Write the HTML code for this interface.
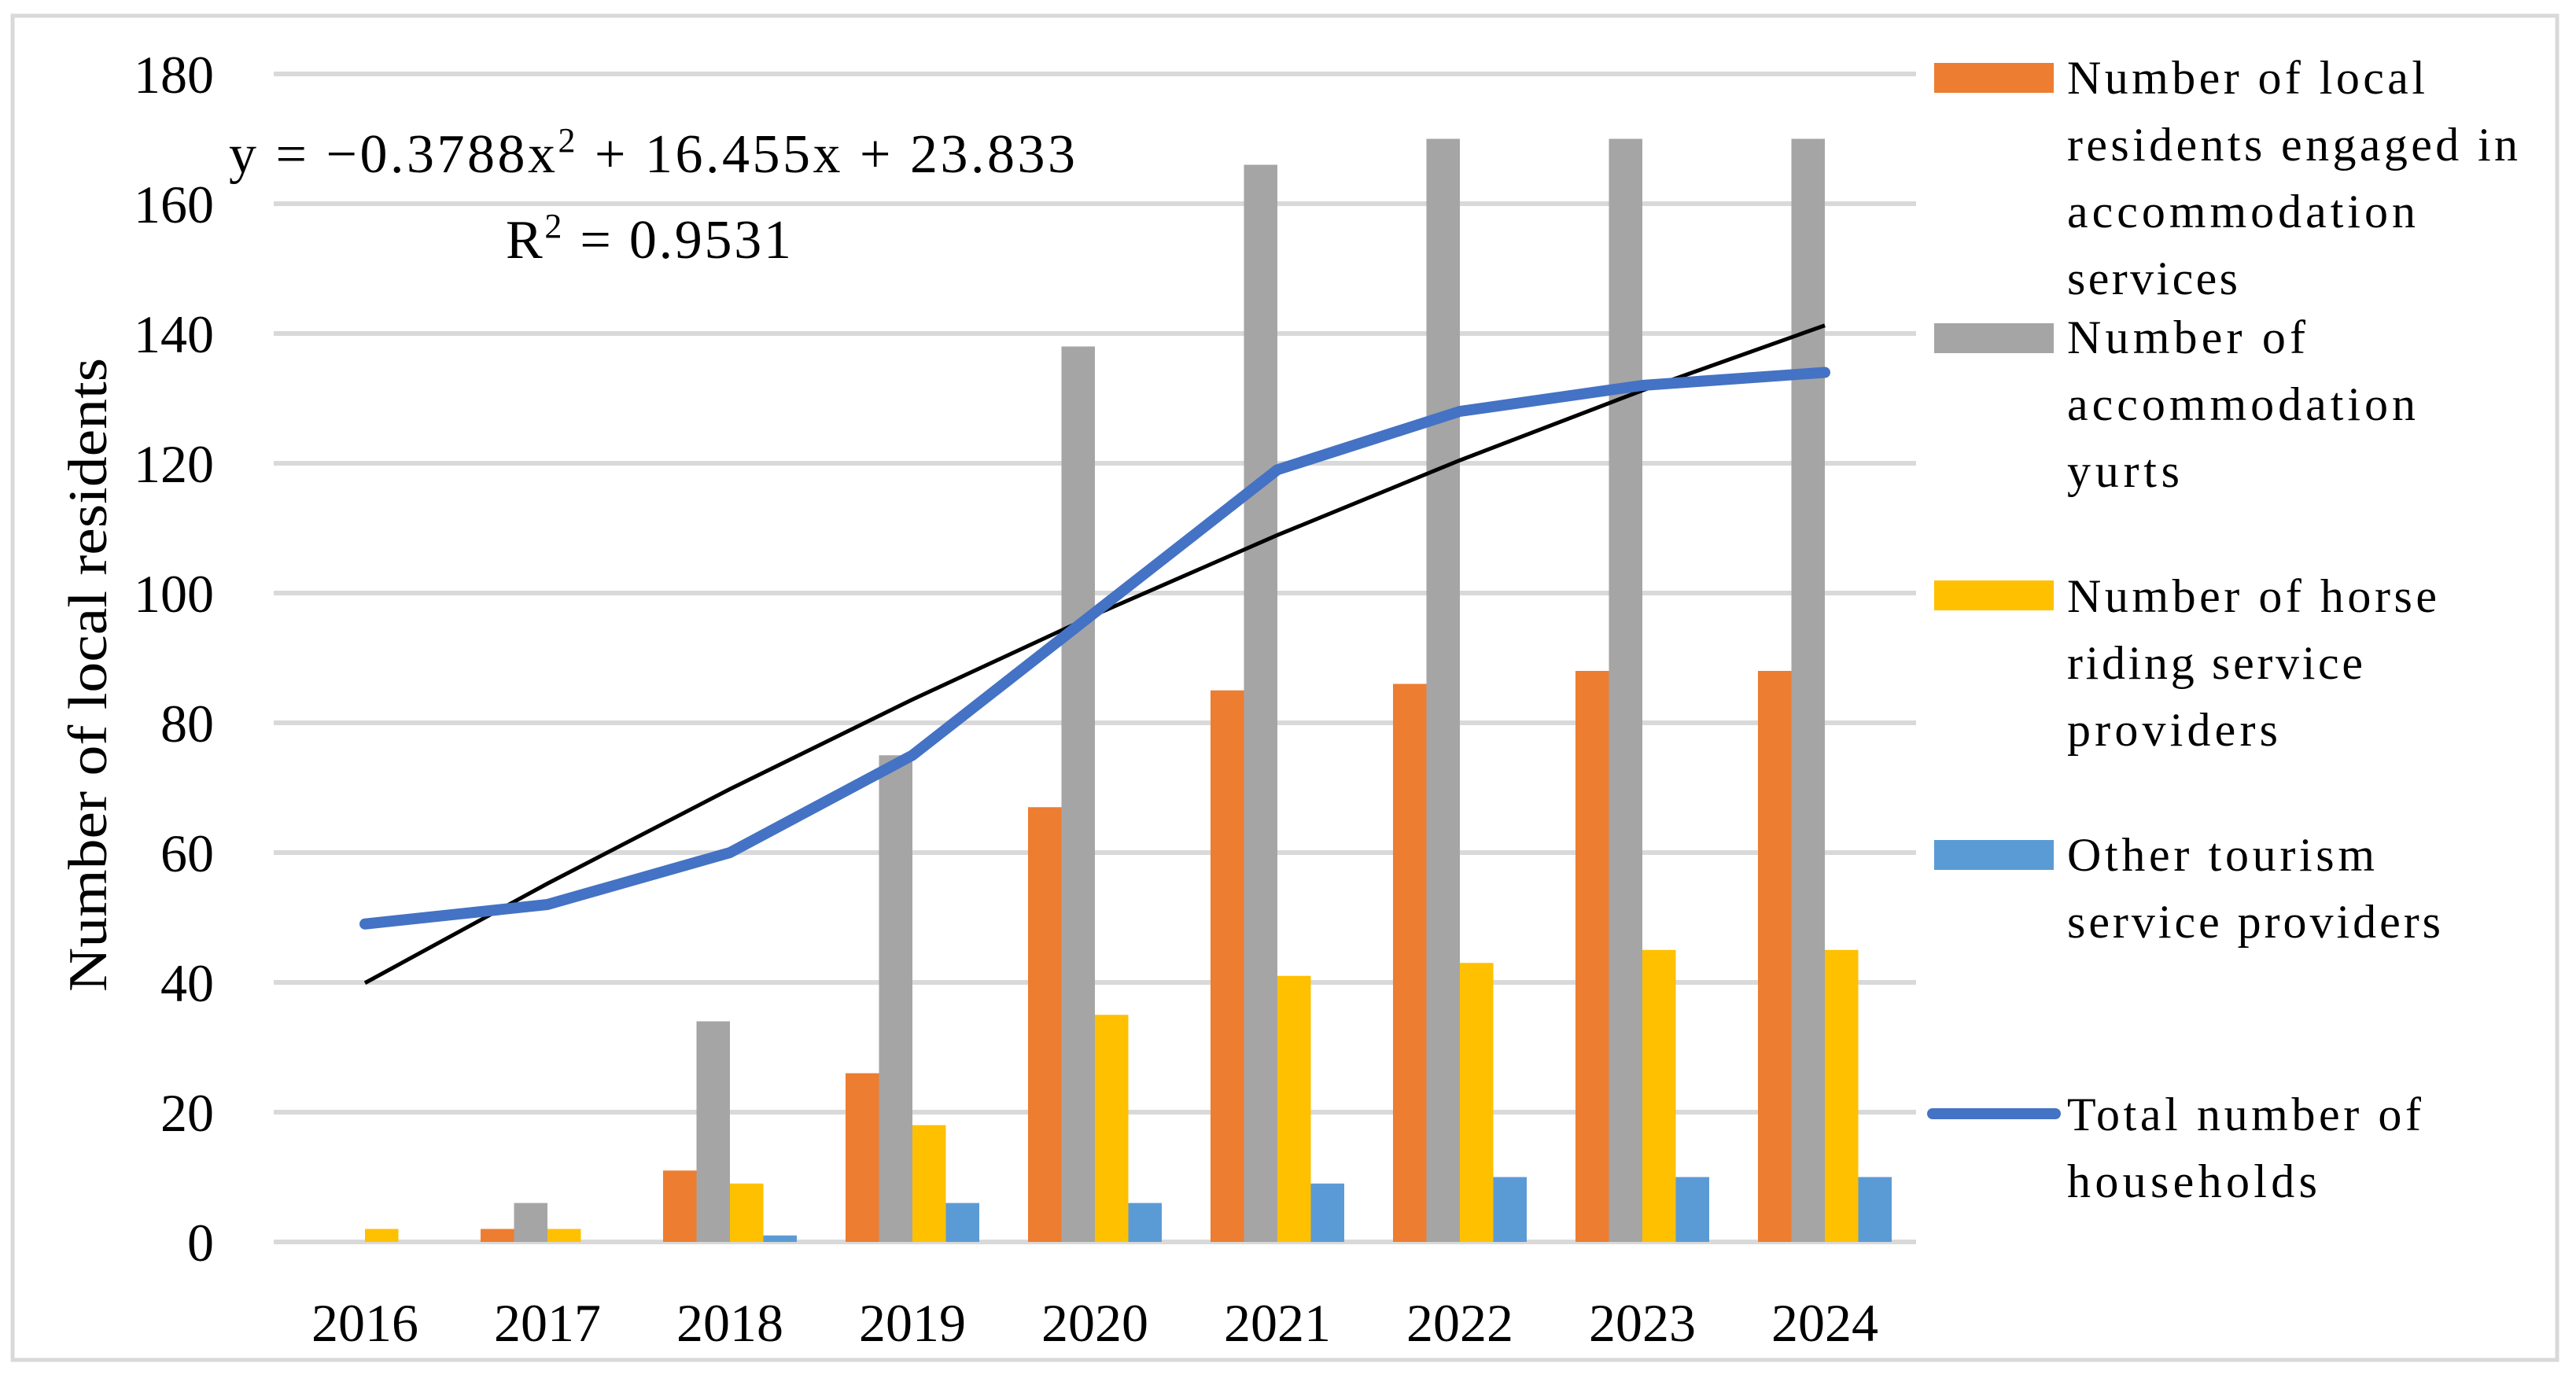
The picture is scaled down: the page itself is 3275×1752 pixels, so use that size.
<!DOCTYPE html>
<html><head><meta charset="utf-8"><style>
html,body{margin:0;padding:0;background:#fff;}
svg{display:block;}
text{font-family:"Liberation Serif",serif;fill:#000;}
</style></head><body>
<svg id="chart" width="3275" height="1752" viewBox="0 0 3275 1752" xmlns="http://www.w3.org/2000/svg">
<rect x="16" y="20" width="3235" height="1709" fill="#fff" stroke="#d9d9d9" stroke-width="5"/>
<g id="grid"></g>
<g id="bars"></g>
<g id="lines"></g>
<g id="yticks"></g>
<g id="xticks"></g>
<text transform="translate(135,858) rotate(-90)" text-anchor="middle" font-size="70" textLength="806" lengthAdjust="spacingAndGlyphs">Number of local residents</text>
<text x="291" y="219" font-size="70" textLength="1076">y = −0.3788x<tspan font-size="44" dy="-26">2</tspan><tspan dy="26"> + 16.455x + 23.833</tspan></text>
<text x="643" y="328" font-size="70" textLength="363">R<tspan font-size="44" dy="-26">2</tspan><tspan dy="26"> = 0.9531</tspan></text>
<g font-size="60">
 <g>
  <rect x="2459" y="80" width="152" height="38" fill="#ED7D31"/>
  <text x="2628" y="119" textLength="455">Number of local</text>
  <text x="2628" y="204" textLength="573">residents engaged in</text>
  <text x="2628" y="289" textLength="443">accommodation</text>
  <text x="2628" y="374" textLength="217">services</text>
 </g>
 <g>
  <rect x="2459" y="411" width="152" height="38" fill="#A5A5A5"/>
  <text x="2628" y="449" textLength="303">Number of</text>
  <text x="2628" y="534" textLength="443">accommodation</text>
  <text x="2628" y="619" textLength="143">yurts</text>
 </g>
 <g>
  <rect x="2459" y="738" width="152" height="38" fill="#FFC000"/>
  <text x="2628" y="778" textLength="470">Number of horse</text>
  <text x="2628" y="863" textLength="376">riding service</text>
  <text x="2628" y="948" textLength="268">providers</text>
 </g>
 <g>
  <rect x="2459" y="1068" width="152" height="38" fill="#5B9BD5"/>
  <text x="2628" y="1107" textLength="391">Other tourism</text>
  <text x="2628" y="1192" textLength="475">service providers</text>
 </g>
 <g>
  <line x1="2457" y1="1416" x2="2613" y2="1416" stroke="#4472C4" stroke-width="14" stroke-linecap="round"/>
  <text x="2628" y="1437" textLength="450">Total number of</text>
  <text x="2628" y="1522" textLength="318">households</text>
 </g>
</g>
</svg>
<script>
const categories=["2016","2017","2018","2019","2020","2021","2022","2023","2024"];
const localResidents=[0,2,11,26,67,85,86,88,88];
const yurts=[0,6,34,75,138,166,170,170,170];
const horseRiding=[2,2,9,18,35,41,43,45,45];
const otherTourism=[0,0,1,6,6,9,10,10,10];
const totalHouseholds=[49,52,60,75,97,119,128,132,134];
const trendCoeffs=[-0.3788,16.455,23.833];
const yTicks=[0,20,40,60,80,100,120,140,160,180];

const NS="http://www.w3.org/2000/svg";
const X0=348,X1=2436,Y0=1579,Y1=94,YMAX=180;
const bw=(X1-X0)/categories.length;
const barW=42.5;
function yScale(v){return Y0-(Y0-Y1)*v/YMAX;}
function xCenter(i){return X0+bw*(i+0.5);}
function mk(tag,attrs,parent){const e=document.createElementNS(NS,tag);for(const k in attrs)e.setAttribute(k,attrs[k]);parent.appendChild(e);return e;}
const grid=document.getElementById('grid'),bars=document.getElementById('bars'),lines=document.getElementById('lines');
const yt=document.getElementById('yticks'),xt=document.getElementById('xticks');
yTicks.forEach(t=>{
 const g=mk('line',{x1:X0,x2:X1,y1:yScale(t),y2:yScale(t),stroke:'#d9d9d9','stroke-width':6},grid);
 
 
 const tx=mk('text',{x:272,y:yScale(t)+24,'text-anchor':'end','font-size':68},yt);
 tx.textContent=t;
 
 
});
const series=[[localResidents,'#ED7D31','local'],[yurts,'#A5A5A5','yurts'],[horseRiding,'#FFC000','horse'],[otherTourism,'#5B9BD5','other']];
categories.forEach((c,i)=>{
 series.forEach((s,j)=>{
  const v=s[0][i];
  const r=mk('rect',{x:xCenter(i)-2*barW+j*barW,y:yScale(v),width:barW,height:yScale(0)-yScale(v),fill:s[1]},bars);
  
  
 });
 const tx=mk('text',{x:xCenter(i),y:1705,'text-anchor':'middle','font-size':68},xt);
 tx.textContent=c;
 
 
});
let tp=categories.map((c,i)=>{const x=i+1;const v=trendCoeffs[0]*x*x+trendCoeffs[1]*x+trendCoeffs[2];return xCenter(i)+','+yScale(v);}).join(' ');
const tl=mk('polyline',{points:tp,fill:'none',stroke:'#000','stroke-width':5},lines);


const lp=totalHouseholds.map((v,i)=>xCenter(i)+','+yScale(v)).join(' ');
const ln=mk('polyline',{points:lp,fill:'none',stroke:'#4472C4','stroke-width':14,'stroke-linecap':'round','stroke-linejoin':'round'},lines);


</script>
</body></html>
